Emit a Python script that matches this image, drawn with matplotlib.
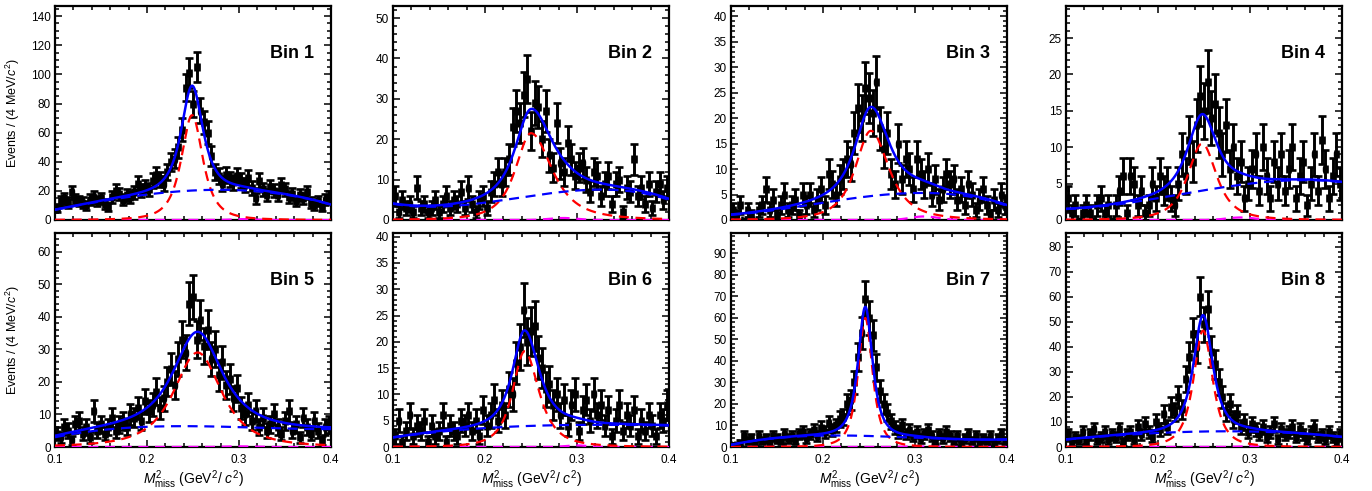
import numpy as np
import matplotlib
matplotlib.use("Agg")
import matplotlib.pyplot as plt
from matplotlib.ticker import MultipleLocator

plt.rcParams["font.family"] = ["Liberation Sans", "DejaVu Sans"]
plt.rcParams["mathtext.fontset"] = "custom"
plt.rcParams["mathtext.rm"] = "Liberation Sans"
plt.rcParams["mathtext.it"] = "Liberation Sans:italic"
plt.rcParams["mathtext.bf"] = "Liberation Sans:bold"

# binning of the missing-mass-squared histograms (GeV^2/c^2)
x_lo, x_hi = 0.1, 0.4
bin_width = 0.004
n_bins = 75

# event counts per 4 MeV bin, one list per kinematic bin
counts_bin1 = [8, 13, 15, 12, 19, 14, 13, 12, 10, 14,
               16, 13, 15, 11, 9, 16, 20, 18, 14, 17,
               16, 19, 25, 20, 23, 21, 27, 31, 28, 25,
               33, 40, 42, 50, 62, 91, 101, 80, 105, 75,
               67, 60, 44, 33, 30, 25, 31, 28, 26, 30,
               27, 24, 29, 22, 15, 27, 21, 17, 23, 20,
               17, 24, 21, 16, 18, 13, 17, 15, 19, 12,
               10, 13, 9, 14, 16]
counts_bin2 = [6, 2, 5, 3, 4, 2, 8, 3, 4, 2,
               3, 5, 2, 4, 6, 3, 5, 4, 7, 3,
               8, 4, 2, 5, 6, 3, 7, 9, 12, 9,
               12, 15, 23, 27, 24, 31, 35, 22, 29, 28,
               20, 27, 16, 13, 24, 14, 12, 19, 15, 11,
               13, 14, 10, 7, 12, 11, 6, 9, 11, 4,
               9, 10, 2, 8, 7, 15, 6, 8, 4, 9,
               3, 7, 9, 5, 8]
counts_bin3 = [2, 1, 3, 0, 2, 1, 0, 2, 3, 6,
               2, 4, 1, 3, 5, 2, 3, 4, 1, 5,
               3, 5, 2, 4, 6, 3, 9, 7, 5, 8,
               9, 12, 11, 17, 22, 20, 26, 24, 21, 27,
               18, 14, 17, 9, 7, 15, 8, 12, 10, 6,
               12, 9, 7, 10, 5, 8, 4, 6, 9, 7,
               8, 4, 6, 3, 7, 5, 2, 4, 6, 3,
               1, 4, 2, 5, 3]
counts_bin4 = [3, 1, 2, 0, 1, 2, 1, 0, 2, 3,
               1, 2, 0, 2, 4, 6, 1, 6, 5, 2,
               4, 1, 2, 5, 3, 6, 4, 5, 3, 2,
               5, 9, 6, 11, 8, 13, 17, 15, 19, 14,
               16, 12, 9, 13, 7, 10, 6, 8, 3, 5,
               7, 9, 4, 10, 6, 3, 8, 5, 9, 4,
               7, 10, 3, 6, 8, 2, 5, 9, 4, 11,
               7, 3, 6, 9, 5]
counts_bin5 = [4, 3, 6, 5, 2, 7, 8, 4, 6, 3,
               11, 5, 7, 4, 6, 9, 5, 7, 8, 6,
               10, 9, 12, 8, 14, 11, 13, 17, 12, 15,
               20, 24, 19, 27, 33, 29, 44, 46, 33, 39,
               31, 36, 27, 30, 22, 26, 19, 21, 15, 18,
               12, 10, 13, 8, 11, 6, 9, 5, 7, 10,
               6, 4, 8, 11, 5, 7, 3, 9, 6, 4,
               8, 5, 2, 6, 7]
counts_bin6 = [2, 5, 1, 3, 6, 2, 4, 3, 5, 1,
               4, 2, 3, 6, 1, 4, 3, 2, 5, 4,
               6, 3, 5, 2, 7, 4, 6, 9, 5, 8,
               6, 11, 10, 16, 19, 26, 20, 22, 23, 17,
               15, 11, 12, 8, 10, 6, 9, 4, 8, 10,
               3, 7, 9, 5, 10, 6, 8, 4, 7, 2,
               5, 8, 3, 6, 4, 7, 2, 5, 3, 6,
               4, 2, 6, 5, 8]
counts_bin7 = [1, 0, 2, 5, 3, 4, 2, 5, 3, 4,
               2, 5, 4, 3, 6, 4, 5, 3, 6, 7,
               4, 6, 8, 5, 9, 7, 11, 8, 10, 13,
               14, 20, 22, 30, 42, 53, 69, 60, 52, 37,
               26, 20, 16, 12, 9, 7, 10, 6, 8, 5,
               7, 4, 6, 8, 5, 3, 6, 4, 7, 5,
               3, 5, 2, 4, 6, 3, 5, 2, 4, 3,
               5, 2, 4, 6, 3]
counts_bin8 = [5, 2, 4, 3, 6, 2, 5, 7, 3, 4,
               6, 3, 5, 4, 7, 2, 5, 6, 3, 8,
               5, 9, 6, 4, 10, 7, 13, 8, 16, 14,
               20, 15, 27, 36, 45, 40, 60, 49, 55, 38,
               33, 26, 20, 14, 17, 11, 13, 8, 10, 6,
               9, 7, 5, 8, 4, 6, 9, 3, 7, 5,
               6, 8, 4, 7, 5, 3, 6, 8, 4, 5,
               3, 6, 4, 2, 5]
all_counts = [counts_bin1, counts_bin2, counts_bin3, counts_bin4,
              counts_bin5, counts_bin6, counts_bin7, counts_bin8]

# signal peak: amplitude, position, left/right widths
sig_amp = [72.0, 21.5, 17.5, 10.5, 29.0, 18.2, 60.0, 46.5]
sig_mean = [0.249, 0.250, 0.252, 0.248, 0.255, 0.243, 0.246, 0.249]
sig_wl = [0.018, 0.026, 0.026, 0.024, 0.040, 0.020, 0.012, 0.016]
sig_wr = [0.018, 0.035, 0.030, 0.024, 0.040, 0.024, 0.012, 0.016]
sig_power = 1.5

# background: cubic in t = (x - 0.25) / 0.15
bkg_c0 = [20.28, 5.9625, 4.656, 4.081, 6.3875, 4.019, 5.119, 6.20]
bkg_c1 = [4.84, 5.00, 3.094, 3.144, -0.325, 0.869, -1.844, 0.95]
bkg_c2 = [-11.53, -1.4625, -2.756, -0.731, -2.1375, -1.069, -2.869, -2.70]
bkg_c3 = [-3.09, -4.50, -2.194, -1.294, 1.575, 0.281, 3.094, -0.45]

# small peaking background component
peak_bkg_amp = [0.6, 0.5, 0.7, 0.35, 0.2, 0.3, 0.3, 0.3]
peak_bkg_mean = [0.305, 0.285, 0.310, 0.290, 0.300, 0.300, 0.300, 0.300]
peak_bkg_width = [0.012, 0.015, 0.015, 0.015, 0.015, 0.012, 0.012, 0.012]

# axis ranges and tick spacing
y_max = [147, 53, 42, 29.4, 65.7, 40.7, 99.5, 85.5]
y_major = [20, 10, 5, 5, 10, 5, 10, 10]
y_minor = [5, 2, 1, 1, 2, 1, 2, 2]
bin_labels = ["Bin 1", "Bin 2", "Bin 3", "Bin 4", "Bin 5", "Bin 6", "Bin 7", "Bin 8"]


def signal(x, k):
    w = np.where(x < sig_mean[k], sig_wl[k], sig_wr[k])
    return sig_amp[k] * (1 + ((x - sig_mean[k]) / w) ** 2) ** (-sig_power)


def background(x, k):
    t = (x - 0.25) / 0.15
    return bkg_c0[k] + bkg_c1[k] * t + bkg_c2[k] * t ** 2 + bkg_c3[k] * t ** 3


def peaking_bkg(x, k):
    return peak_bkg_amp[k] * np.exp(-0.5 * ((x - peak_bkg_mean[k]) / peak_bkg_width[k]) ** 2)


centers = x_lo + bin_width * (np.arange(n_bins) + 0.5)
xf = np.linspace(x_lo, x_hi, 601)

W, H = 1372, 491
fig = plt.figure(figsize=(W / 100, H / 100), dpi=100)
col_left = [55, 393, 731, 1066]
row_top = [6, 233]
pw, ph = 276, 214

blue = "#0000ff"
red = "#ff0000"
magenta = "#ff00ff"
dash = (0, (4.5, 3))

for k in range(8):
    r, c = divmod(k, 4)
    left = col_left[c] / W
    bottom = 1 - (row_top[r] + ph) / H
    ax = fig.add_axes([left, bottom, pw / W, ph / H])

    n = np.array(all_counts[k], dtype=float)
    ax.errorbar(centers, n, yerr=np.sqrt(n), xerr=bin_width / 2, fmt="s",
                color="black", ms=3.4, elinewidth=2.1, capsize=2.6, capthick=1.9,
                zorder=2)

    sig = signal(xf, k)
    bkg = background(xf, k)
    pk = peaking_bkg(xf, k)
    ax.plot(xf, pk, color=magenta, lw=1.6, ls=dash, zorder=3)
    ax.plot(xf, sig, color=red, lw=1.6, ls=dash, zorder=3)
    ax.plot(xf, bkg, color=blue, lw=1.6, ls=dash, zorder=3)
    ax.plot(xf, sig + bkg + pk, color=blue, lw=1.8, zorder=4)

    ax.set_xlim(x_lo, x_hi)
    ax.set_ylim(0, y_max[k])
    ax.xaxis.set_major_locator(MultipleLocator(0.1))
    ax.xaxis.set_minor_locator(MultipleLocator(0.02))
    ax.yaxis.set_major_locator(MultipleLocator(y_major[k]))
    ax.yaxis.set_minor_locator(MultipleLocator(y_minor[k]))
    ax.tick_params(which="both", direction="in", top=True, right=True,
                   labelsize=8.5, width=1.1)
    ax.tick_params(axis="x", which="both", pad=5)
    ax.tick_params(axis="y", which="both", pad=3)
    ax.tick_params(which="major", length=5)
    ax.tick_params(which="minor", length=2.6)
    for s in ax.spines.values():
        s.set_linewidth(1.6)

    if r == 0:
        ax.set_xticklabels([])
    else:
        ax.text(0.5, -0.155, r"$M^{2}_{\mathrm{miss}}$ (GeV$^{2}$/ $c^{2}$)",
                transform=ax.transAxes, ha="center", va="center", fontsize=10)
    if c == 0:
        ax.text(-0.153, 0.5, r"Events / (4 MeV/$c^{2}$)", transform=ax.transAxes,
                rotation=90, ha="center", va="center", fontsize=9)

    ax.text(0.938, 0.78, bin_labels[k], transform=ax.transAxes, ha="right",
            va="center", fontsize=13, fontweight="bold")

fig.savefig("out.png", dpi=100)
